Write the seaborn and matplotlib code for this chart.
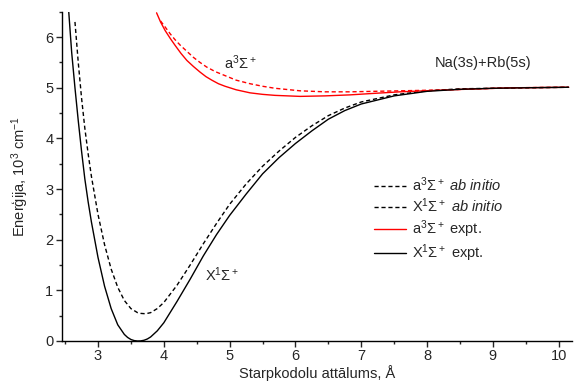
import numpy as np
import pandas as pd
import matplotlib
matplotlib.use("Agg")
import matplotlib.pyplot as plt
from matplotlib.ticker import MultipleLocator
import seaborn as sns

# potential curves (R in Angstrom, E in 10^3 cm^-1)
x_expt_r = [2.55, 2.60, 2.65, 2.70, 2.75, 2.80, 2.85, 2.90, 3.00, 3.10, 3.20, 3.30, 3.40, 3.45,
            3.50, 3.55, 3.60, 3.65, 3.70, 3.75, 3.80, 3.90, 4.00, 4.20, 4.40, 4.60, 4.80, 5.00,
            5.25, 5.50, 5.75, 6.00, 6.25, 6.50, 6.75, 7.00, 7.50, 8.00, 8.50, 9.00, 9.50, 10.15]
x_expt_e = [6.60, 5.70, 5.00, 4.35, 3.75, 3.20, 2.75, 2.35, 1.65, 1.08, 0.64, 0.32, 0.13, 0.07,
            0.03, 0.008, 0.0, 0.002, 0.015, 0.04, 0.08, 0.20, 0.36, 0.78, 1.22, 1.68, 2.10, 2.48,
            2.90, 3.30, 3.62, 3.90, 4.15, 4.38, 4.55, 4.68, 4.84, 4.93, 4.97, 4.99, 5.00, 5.01]

x_abin_r = [2.65, 2.70, 2.75, 2.80, 2.85, 2.90, 3.00, 3.10, 3.20, 3.30, 3.40, 3.50, 3.60, 3.65,
            3.70, 3.75, 3.80, 3.90, 4.00, 4.20, 4.40, 4.60, 4.80, 5.00, 5.25, 5.50, 5.75, 6.00,
            6.25, 6.50, 6.75, 7.00, 7.50, 8.00, 8.50, 9.00, 9.50, 10.15]
x_abin_e = [6.30, 5.50, 4.80, 4.20, 3.70, 3.25, 2.50, 1.90, 1.42, 1.06, 0.80, 0.64, 0.56, 0.545,
            0.54, 0.545, 0.56, 0.64, 0.76, 1.10, 1.50, 1.92, 2.32, 2.70, 3.10, 3.45, 3.75, 4.02,
            4.25, 4.45, 4.60, 4.72, 4.86, 4.94, 4.98, 4.99, 5.00, 5.01]

a_expt_r = [3.89, 3.95, 4.02, 4.10, 4.17, 4.26, 4.35, 4.45, 4.55, 4.64, 4.73, 4.83, 4.93, 5.10,
            5.31, 5.50, 5.69, 6.07, 6.45, 6.83, 7.20, 7.59, 7.97, 8.35, 8.80, 9.30, 10.15]
a_expt_e = [6.48, 6.30, 6.13, 5.97, 5.84, 5.68, 5.54, 5.42, 5.31, 5.22, 5.15, 5.08, 5.03, 4.96,
            4.90, 4.87, 4.85, 4.83, 4.84, 4.86, 4.89, 4.92, 4.94, 4.96, 4.98, 5.00, 5.01]

a_abin_r = [3.95, 4.02, 4.10, 4.17, 4.25, 4.35, 4.45, 4.55, 4.65, 4.78, 4.93, 5.10, 5.31, 5.50,
            5.69, 6.07, 6.45, 6.83, 7.20, 7.59, 7.97, 8.35, 8.80, 9.30, 10.15]
a_abin_e = [6.32, 6.20, 6.06, 5.95, 5.84, 5.72, 5.60, 5.50, 5.41, 5.32, 5.24, 5.15, 5.08, 5.03,
            4.99, 4.94, 4.92, 4.92, 4.93, 4.94, 4.95, 4.96, 4.98, 5.00, 5.01]

sns.set_style("ticks")
plt.rcParams["font.family"] = ["Liberation Sans", "DejaVu Sans"]
plt.rcParams["mathtext.fontset"] = "custom"
plt.rcParams["mathtext.rm"] = "Liberation Sans"
plt.rcParams["mathtext.it"] = "Liberation Sans:italic"
plt.rcParams["mathtext.default"] = "regular"

fig = plt.figure(figsize=(5.83, 3.81), dpi=100)
ax = fig.add_axes([0.106, 0.105, 0.875, 0.864])

curves = [
    (a_abin_r, a_abin_e, "red", (0, (3, 2)), r"a$^3\Sigma^+$ $\mathit{ab\ initio}$"),
    (x_abin_r, x_abin_e, "black", (0, (3, 2)), r"X$^1\Sigma^+$ $\mathit{ab\ initio}$"),
    (a_expt_r, a_expt_e, "red", "-", r"a$^3\Sigma^+$ expt."),
    (x_expt_r, x_expt_e, "black", "-", r"X$^1\Sigma^+$ expt."),
]
for r, e, col, ls, lab in curves:
    df = pd.DataFrame({"R": r, "E": e})
    sns.lineplot(data=df, x="R", y="E", ax=ax, color=col, linestyle=ls,
                 linewidth=1.0, label=lab, sort=False)

ax.set_xlim(2.45, 10.2)
ax.set_ylim(0, 6.5)
ax.xaxis.set_major_locator(MultipleLocator(1))
ax.xaxis.set_minor_locator(MultipleLocator(0.5))
ax.yaxis.set_major_locator(MultipleLocator(1))
ax.yaxis.set_minor_locator(MultipleLocator(0.5))
ax.tick_params(which="major", direction="out", length=4, width=1, labelsize=10.5, pad=2)
ax.tick_params(which="minor", direction="out", length=2.5, width=1)
sns.despine(ax=ax)
for s in ["left", "bottom"]:
    ax.spines[s].set_linewidth(1.0)
    ax.spines[s].set_color("black")

ax.set_xlabel("Starpkodolu attālums, Å", fontsize=10.5, labelpad=1)
ax.set_ylabel("Enerģija, 10$^3$ cm$^{-1}$", fontsize=10.5, labelpad=10)

ax.text(5.17, 5.49, r"a$^3\Sigma^+$", fontsize=10.5, ha="center", va="center")
ax.text(4.89, 1.30, r"X$^1\Sigma^+$", fontsize=10.5, ha="center", va="center")
ax.text(8.85, 5.49, "Na(3s)+Rb(5s)", fontsize=10.5, ha="center", va="center")

leg = ax.legend(loc="upper left", bbox_to_anchor=(0.6, 0.52), frameon=False,
                fontsize=10.5, handlelength=2.2, handletextpad=0.4, labelspacing=0.18,
                borderaxespad=0)
leg.get_lines()[0].set_color("black")

fig.savefig("out.png", dpi=100)
